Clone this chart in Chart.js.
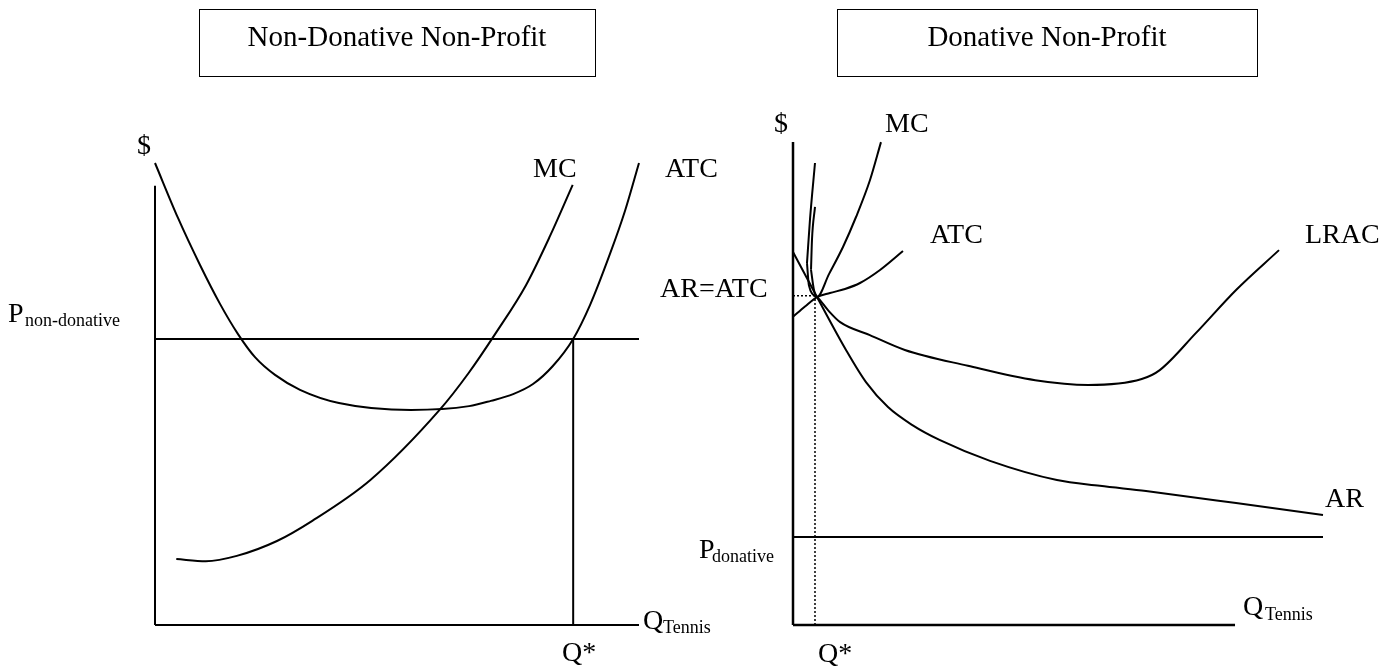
<!DOCTYPE html>
<html>
<head>
<meta charset="utf-8">
<script src="https://cdn.jsdelivr.net/npm/chart.js@4/dist/chart.umd.min.js"></script>
<style>
  html, body { margin:0; padding:0; background:#fff; overflow:hidden; }
  #page { position:relative; width:1398px; height:667px; background:#fff; font-family:"Liberation Serif","Times New Roman",serif; color:#000; }
  canvas { position:absolute; top:0; }
  .box { position:absolute; border:1.5px solid #000; box-sizing:border-box; }
  .lbl { position:absolute; line-height:1; white-space:nowrap; font-family:"Liberation Serif","Times New Roman",serif; }
</style>
</head>
<body>
<div id="page">
  <canvas id="left" width="699" height="667" style="left:0"></canvas>
  <canvas id="right" width="699" height="667" style="left:699px"></canvas>
</div>
<script>
// ---------- Left panel: Non-Donative Non-Profit (Q in 0..100, $ in 0..100) ----------
const leftAtcQ = [0, 4.75, 9.3, 13.43, 17.15, 20.66, 24.8, 29.96, 38.0, 52.9, 64.9, 69.4, 74.0, 78.1, 82.2, 86.4, 89.9, 94.0, 97.1, 100];
const leftAtcP = [96.25, 84.8, 75.0, 66.9, 60.6, 55.8, 52.1, 49.0, 46.25, 44.8, 45.6, 46.7, 48.1, 50.2, 53.96, 59.6, 66.7, 77.3, 86.25, 96.25];
const leftMcQ  = [4.4, 10.5, 16.9, 25.2, 32.5, 44.5, 58.8, 64.8, 70.4, 76.65, 81.6, 86.3];
const leftMcP  = [13.75, 13.3, 14.4, 17.5, 21.7, 30.2, 44.8, 52.5, 60.8, 70.8, 81.0, 91.7];
const leftPrice = 59.6;     // P non-donative
const leftQStar = 86.4;     // Q*
const leftQMax  = 100;      // end of quantity axis / price line
const leftPMax  = 91.5;     // top of $ axis

// ---------- Right panel: Donative Non-Profit ----------
const rightMcArmQ   = [4.15, 3.58, 3.4];
const rightMcArmP   = [87.1, 80.2, 74.0];
const rightMcQ      = [3.4, 3.96, 4.53, 6.79, 9.43, 11.89, 14.53, 16.6];
const rightMcP      = [74.0, 69.8, 68.33, 73.1, 78.75, 85.0, 92.7, 100.6];
const rightAtcQ     = [0, 2.26, 4.53, 6.98, 9.81, 12.64, 16.42, 20.75];
const rightAtcP     = [64.2, 66.35, 68.33, 69.17, 70.0, 71.25, 73.96, 77.9];
const rightLracArmQ = [4.15, 3.2, 2.64];
const rightLracArmP = [96.25, 84.4, 75.4];
const rightLracQ    = [2.64, 3.0, 4.53, 6.6, 8.9, 14.5, 21.1, 33.0, 45.7, 55.7, 65.8, 69.2, 76.0, 83.6, 91.7];
const rightLracP    = [75.4, 70.8, 68.33, 65.6, 63.1, 60.4, 57.3, 54.0, 51.0, 50.0, 51.25, 53.1, 60.8, 69.8, 78.1];
const rightArQ      = [0, 4.53, 10.0, 13.77, 17.92, 22.45, 27.74, 37.17, 49.8, 57.9, 66.6, 83.6, 100];
const rightArP      = [77.7, 68.33, 57.3, 50.6, 45.4, 41.7, 38.5, 34.2, 30.2, 29.0, 27.9, 25.4, 22.9];
const rightPrice   = 18.33;   // P donative
const rightQStar   = 4.15;    // Q*
const rightARATC   = 68.6;    // AR = ATC
const rightQMax    = 83.4;    // end of quantity axis
const rightLineMax = 100;     // end of P donative line
const rightPMax    = 100.6;   // top of $ axis

const pts = (xs, ys) => xs.map((x, i) => ({x, y: ys[i]}));

function curve(data, opts) {
  return Object.assign({
    data, borderColor:'#000', borderWidth:2, pointRadius:0, fill:false,
    cubicInterpolationMode:'monotone', clip:false, showLine:true
  }, opts || {});
}
function seg(x1, y1, x2, y2, opts) {
  return Object.assign({
    data:[{x:x1,y:y1},{x:x2,y:y2}], borderColor:'#000', borderWidth:2, pointRadius:0,
    fill:false, tension:0, clip:false, showLine:true
  }, opts || {});
}

function makeChart(id, datasets, padding) {
  return new Chart(document.getElementById(id), {
    type:'line',
    data:{ datasets },
    options:{
      responsive:false, animation:false, devicePixelRatio:1,
      layout:{ padding },
      plugins:{ legend:{display:false}, tooltip:{enabled:false} },
      events:[],
      scales:{
        x:{ type:'linear', min:0, max:100, display:false },
        y:{ type:'linear', min:0, max:100, display:false }
      }
    }
  });
}

makeChart('left', [
  seg(0, 0, 0, leftPMax),
  seg(0, 0, leftQMax, 0),
  seg(0, leftPrice, leftQMax, leftPrice),
  seg(leftQStar, 0, leftQStar, leftPrice),
  curve(pts(leftAtcQ, leftAtcP)),
  curve(pts(leftMcQ, leftMcP))
], {left:155, right:60, top:145, bottom:42});

makeChart('right', [
  seg(0, 0, 0, rightPMax, {borderWidth:2.5}),
  seg(0, 0, rightQMax, 0, {borderWidth:2.5}),
  seg(0, rightPrice, rightLineMax, rightPrice),
  seg(0, rightARATC, rightQStar, rightARATC, {borderWidth:1.5, borderDash:[2,2]}),
  seg(rightQStar, 0, rightQStar, rightARATC, {borderWidth:1.5, borderDash:[2,2]}),
  curve(pts(rightArQ, rightArP)),
  curve(pts(rightLracArmQ, rightLracArmP)),
  curve(pts(rightLracQ, rightLracP)),
  curve(pts(rightAtcQ, rightAtcP)),
  curve(pts(rightMcArmQ, rightMcArmP)),
  curve(pts(rightMcQ, rightMcP))
], {left:94, right:75, top:145, bottom:42});

// ---------- Text ----------
const page = document.getElementById('page');
function box(x, y, w, h) {
  const d = document.createElement('div');
  d.className = 'box';
  Object.assign(d.style, {left:x+'px', top:y+'px', width:w+'px', height:h+'px'});
  page.appendChild(d);
}
function label(text, x, baseline, size, center) {
  const s = document.createElement('span');
  s.className = 'lbl';
  s.textContent = text;
  s.style.fontSize = size + 'px';
  s.style.top = (baseline - 0.8375 * size) + 'px';
  s.style.left = x + 'px';
  if (center) s.style.transform = 'translateX(-50%)';
  page.appendChild(s);
}

box(199, 9, 397, 68);
box(837, 9, 421, 68);
label('Non-Donative Non-Profit', 397, 46, 29, true);
label('Donative Non-Profit', 1047, 46, 29, true);

// left panel labels
label('$', 137, 154, 28);
label('MC', 533, 177, 28);
label('ATC', 665, 177, 28);
label('P', 8, 322, 28);
label('non-donative', 25, 326, 18);
label('Q*', 562, 661, 28);
label('Q', 643, 629, 28);
label('Tennis', 663, 633, 18);

// right panel labels
label('$', 774, 132, 28);
label('MC', 885, 132, 28);
label('ATC', 930, 243, 28);
label('LRAC', 1305, 243, 28);
label('AR=ATC', 660, 297, 28);
label('P', 699, 558, 28);
label('donative', 712, 562, 18);
label('AR', 1325, 507, 28);
label('Q*', 818, 662, 28);
label('Q', 1243, 615, 28);
label('Tennis', 1265, 620, 18);
</script>
</body>
</html>
